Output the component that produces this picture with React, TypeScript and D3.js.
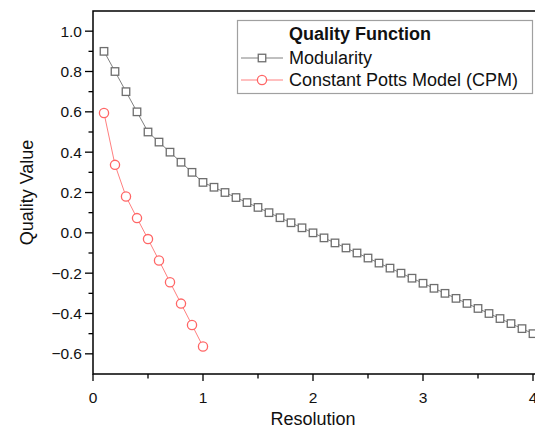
import * as d3 from "d3";
import { useEffect, useRef } from "react";

const resolution = [
  0.1, 0.2, 0.3, 0.4, 0.5, 0.6, 0.7, 0.8, 0.9, 1.0,
  1.1, 1.2, 1.3, 1.4, 1.5, 1.6, 1.7, 1.8, 1.9, 2.0,
  2.1, 2.2, 2.3, 2.4, 2.5, 2.6, 2.7, 2.8, 2.9, 3.0,
  3.1, 3.2, 3.3, 3.4, 3.5, 3.6, 3.7, 3.8, 3.9, 4.0
];

const modularity = [
  0.9, 0.8, 0.7, 0.6, 0.5, 0.45, 0.4, 0.35, 0.3, 0.25,
  0.226, 0.2, 0.175, 0.15, 0.126, 0.1, 0.075, 0.05, 0.025, 0.0,
  -0.025, -0.05, -0.075, -0.1, -0.125, -0.15, -0.175, -0.2, -0.225, -0.25,
  -0.275, -0.3, -0.325, -0.35, -0.375, -0.4, -0.425, -0.45, -0.475, -0.5
];

const cpmResolution = [0.1, 0.2, 0.3, 0.4, 0.5, 0.6, 0.7, 0.8, 0.9, 1.0];
const cpm = [0.594, 0.337, 0.18, 0.073, -0.031, -0.137, -0.245, -0.351, -0.457, -0.564];

const yTicks = [-0.6, -0.4, -0.2, 0.0, 0.2, 0.4, 0.6, 0.8, 1.0];
const yMinor = [-0.5, -0.3, -0.1, 0.1, 0.3, 0.5, 0.7, 0.9];
const xTicks = [0, 1, 2, 3, 4];
const xMinor = [0.5, 1.5, 2.5, 3.5];

const W = 535;
const H = 430;
const margin = { top: 11, left: 93, bottom: 56 };
const font = "Arial, 'Liberation Sans', sans-serif";

const gray = "#6e6e6e";
const grayLine = "#808080";
const red = "#ff6666";
const redLine = "#ff8080";

const App = () => {
  const ref = useRef(null);

  useEffect(() => {
    const svg = d3.select(ref.current);
    svg.selectAll("*").remove();

    const x = d3.scaleLinear().domain([0, 4]).range([margin.left, 533]);
    const y = d3.scaleLinear().domain([-0.7, 1.1]).range([H - margin.bottom, margin.top]);

    const x0 = x(0);
    const yb = y(-0.7);
    const yt = y(1.1);

    // frame (right side runs off the picture)
    svg.append("path")
      .attr("d", `M${W + 5},${yt}H${x0}V${yb}H${W + 5}`)
      .attr("fill", "none")
      .attr("stroke", "#000")
      .attr("stroke-width", 1.5);

    // y ticks
    const gy = svg.append("g");
    yTicks.forEach(t => {
      gy.append("line")
        .attr("x1", x0 - 8).attr("x2", x0)
        .attr("y1", y(t)).attr("y2", y(t))
        .attr("stroke", "#000").attr("stroke-width", 1.3);
      gy.append("text")
        .attr("x", x0 - 11)
        .attr("y", y(t))
        .attr("dy", "0.36em")
        .attr("text-anchor", "end")
        .attr("font-family", font)
        .attr("font-size", 15.5)
        .attr("fill", "#111")
        .text(d3.format(".1f")(t));
    });
    yMinor.forEach(t => {
      gy.append("line")
        .attr("x1", x0 - 4.5).attr("x2", x0)
        .attr("y1", y(t)).attr("y2", y(t))
        .attr("stroke", "#000").attr("stroke-width", 1.3);
    });

    // x ticks
    const gx = svg.append("g");
    xTicks.forEach(t => {
      gx.append("line")
        .attr("x1", x(t)).attr("x2", x(t))
        .attr("y1", yb).attr("y2", yb + 7)
        .attr("stroke", "#000").attr("stroke-width", 1.3);
      gx.append("text")
        .attr("x", x(t))
        .attr("y", yb + 29)
        .attr("text-anchor", "middle")
        .attr("font-family", font)
        .attr("font-size", 15.5)
        .attr("fill", "#111")
        .text(t);
    });
    xMinor.forEach(t => {
      gx.append("line")
        .attr("x1", x(t)).attr("x2", x(t))
        .attr("y1", yb).attr("y2", yb + 4.5)
        .attr("stroke", "#000").attr("stroke-width", 1.3);
    });

    // axis titles
    svg.append("text")
      .attr("x", x(2))
      .attr("y", 425)
      .attr("text-anchor", "middle")
      .attr("font-family", font)
      .attr("font-size", 18)
      .attr("fill", "#111")
      .text("Resolution");

    svg.append("text")
      .attr("transform", `translate(33, ${y(0.2)}) rotate(-90)`)
      .attr("text-anchor", "middle")
      .attr("font-family", font)
      .attr("font-size", 18)
      .attr("fill", "#111")
      .text("Quality Value");

    const line = d3.line().x(d => x(d[0])).y(d => y(d[1]));

    const modPts = resolution.map((r, i) => [r, modularity[i]]);
    const cpmPts = cpmResolution.map((r, i) => [r, cpm[i]]);

    svg.append("path")
      .attr("d", line(modPts))
      .attr("fill", "none")
      .attr("stroke", grayLine)
      .attr("stroke-width", 1);

    svg.append("path")
      .attr("d", line(cpmPts))
      .attr("fill", "none")
      .attr("stroke", redLine)
      .attr("stroke-width", 1);

    const sq = 7.5;
    svg.selectAll(".sq")
      .data(modPts)
      .enter()
      .append("rect")
      .attr("x", d => x(d[0]) - sq / 2)
      .attr("y", d => y(d[1]) - sq / 2)
      .attr("width", sq)
      .attr("height", sq)
      .attr("fill", "#fff")
      .attr("stroke", gray)
      .attr("stroke-width", 1.3);

    svg.selectAll(".ci")
      .data(cpmPts)
      .enter()
      .append("circle")
      .attr("cx", d => x(d[0]))
      .attr("cy", d => y(d[1]))
      .attr("r", 4.6)
      .attr("fill", "#fff")
      .attr("stroke", red)
      .attr("stroke-width", 1.3);

    // legend
    const lg = svg.append("g");
    lg.append("rect")
      .attr("x", 237.5).attr("y", 20.5)
      .attr("width", 295).attr("height", 73)
      .attr("fill", "#fff")
      .attr("stroke", "#a0a0a0")
      .attr("stroke-width", 1.2);

    lg.append("text")
      .attr("x", 289).attr("y", 40)
      .attr("font-family", font)
      .attr("font-size", 18)
      .attr("font-weight", "bold")
      .attr("fill", "#111")
      .text("Quality Function");

    const rows = [
      { label: "Modularity", y: 58, color: gray, lineColor: grayLine, shape: "square" },
      { label: "Constant Potts Model (CPM)", y: 80, color: red, lineColor: redLine, shape: "circle" }
    ];
    rows.forEach(r => {
      lg.append("line")
        .attr("x1", 241).attr("x2", 283)
        .attr("y1", r.y).attr("y2", r.y)
        .attr("stroke", r.lineColor).attr("stroke-width", 1);
      if (r.shape === "square") {
        lg.append("rect")
          .attr("x", 262 - sq / 2).attr("y", r.y - sq / 2)
          .attr("width", sq).attr("height", sq)
          .attr("fill", "#fff").attr("stroke", r.color).attr("stroke-width", 1.3);
      } else {
        lg.append("circle")
          .attr("cx", 262).attr("cy", r.y).attr("r", 4.6)
          .attr("fill", "#fff").attr("stroke", r.color).attr("stroke-width", 1.3);
      }
      lg.append("text")
        .attr("x", 289).attr("y", r.y)
        .attr("dy", "0.36em")
        .attr("font-family", font)
        .attr("font-size", 18)
        .attr("fill", "#111")
        .text(r.label);
    });
  }, []);

  return (
    <svg
      ref={ref}
      width={W}
      height={H}
      style={{ position: "absolute", left: 0, top: 0, background: "#fff" }}
    ></svg>
  );
};

export default App;
